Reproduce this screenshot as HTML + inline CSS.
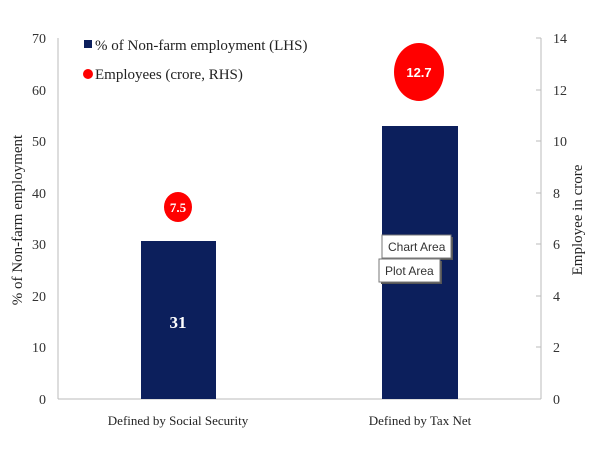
<!DOCTYPE html>
<html><head><meta charset="utf-8"><style>body{margin:0;background:#fff}</style></head><body>
<svg width="600" height="450" xmlns="http://www.w3.org/2000/svg" font-family="Liberation Serif, serif">
<rect width="600" height="450" fill="#fff"/>
<line x1="58" y1="38" x2="58" y2="399" stroke="#bbb"/>
<line x1="541" y1="38" x2="541" y2="399" stroke="#bbb"/>
<line x1="58" y1="399" x2="541" y2="399" stroke="#bbb"/>
<g stroke="#bbb">
<line x1="536" y1="38" x2="541" y2="38"/><line x1="536" y1="90" x2="541" y2="90"/><line x1="536" y1="141" x2="541" y2="141"/><line x1="536" y1="193" x2="541" y2="193"/><line x1="536" y1="244" x2="541" y2="244"/><line x1="536" y1="296" x2="541" y2="296"/><line x1="536" y1="347" x2="541" y2="347"/><line x1="536" y1="399" x2="541" y2="399"/>
</g>
<g font-size="14" fill="#333" text-anchor="end">
<text x="46" y="43">70</text><text x="46" y="95">60</text><text x="46" y="146">50</text><text x="46" y="198">40</text><text x="46" y="249">30</text><text x="46" y="301">20</text><text x="46" y="352">10</text><text x="46" y="404">0</text>
</g>
<g font-size="14" fill="#333">
<text x="553" y="43">14</text><text x="553" y="95">12</text><text x="553" y="146">10</text><text x="553" y="198">8</text><text x="553" y="249">6</text><text x="553" y="301">4</text><text x="553" y="352">2</text><text x="553" y="404">0</text>
</g>
<text transform="translate(22,220) rotate(-90)" font-size="15" fill="#222" text-anchor="middle">% of Non-farm employment</text>
<text transform="translate(582,220) rotate(-90)" font-size="15" fill="#222" text-anchor="middle">Employee in crore</text>
<rect x="141" y="241" width="75" height="158" fill="#0c1f5c"/>
<rect x="382" y="126" width="76" height="273" fill="#0c1f5c"/>
<text x="178" y="328" font-size="17" font-weight="bold" fill="#fff" text-anchor="middle">31</text>
<ellipse cx="178" cy="207" rx="14" ry="15" fill="#f00"/>
<text x="178" y="212" font-size="13" font-weight="bold" fill="#fff" text-anchor="middle">7.5</text>
<ellipse cx="419" cy="72" rx="25" ry="29" fill="#f00"/>
<text x="419" y="77" font-size="13" font-weight="bold" fill="#fff" text-anchor="middle" font-family="Liberation Sans, sans-serif">12.7</text>
<rect x="84" y="40" width="8" height="8" fill="#0c1f5c"/>
<text x="95" y="50" font-size="15" fill="#222">% of Non-farm employment (LHS)</text>
<circle cx="88" cy="74" r="5" fill="#f00"/>
<text x="95" y="79" font-size="15" fill="#222">Employees (crore, RHS)</text>
<text x="178" y="425" font-size="13" fill="#222" text-anchor="middle">Defined by Social Security</text>
<text x="420" y="425" font-size="13" fill="#222" text-anchor="middle">Defined by Tax Net</text>
<g font-family="Liberation Sans, sans-serif" font-size="12" fill="#333">
<rect x="384" y="237" width="69" height="23" fill="#555"/>
<rect x="382" y="235" width="69" height="23" fill="#fff" stroke="#777"/>
<text x="388" y="251">Chart Area</text>
<rect x="381" y="261" width="61" height="23" fill="#555"/>
<rect x="379" y="259" width="61" height="23" fill="#fff" stroke="#777"/>
<text x="385" y="275">Plot Area</text>
</g>
</svg>
</body></html>
